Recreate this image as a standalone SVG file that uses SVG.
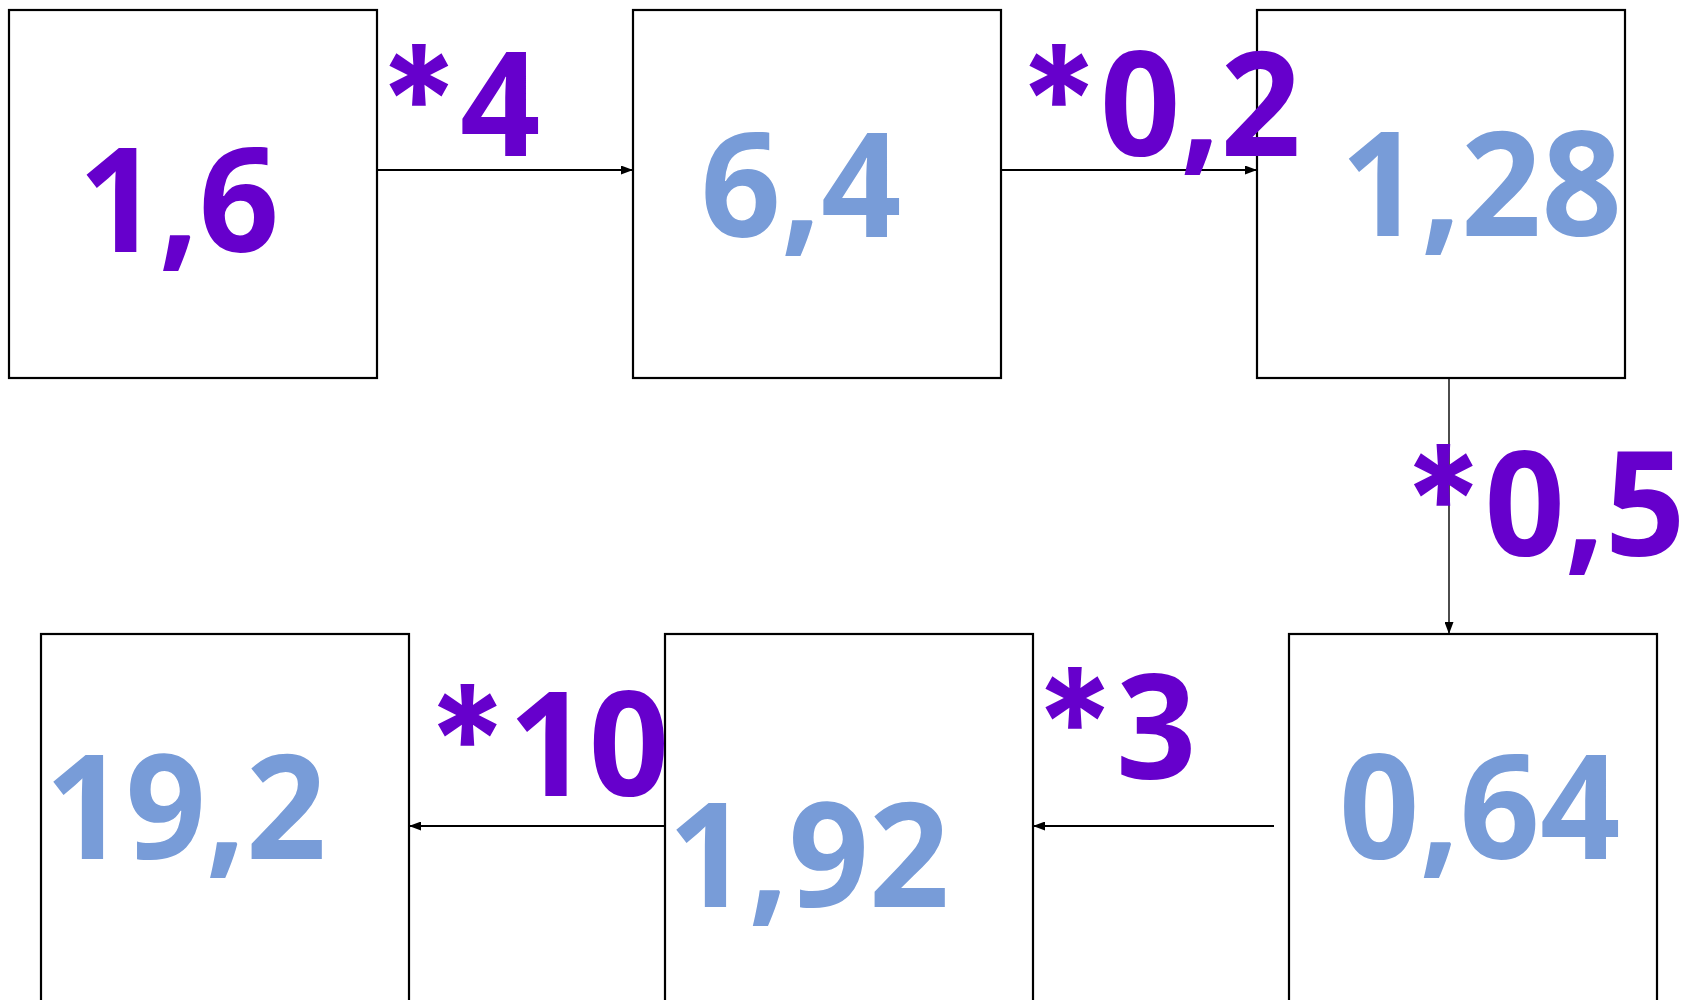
<svg xmlns="http://www.w3.org/2000/svg" width="1682" height="1000" viewBox="0 0 1682 1000">
<style>
.box{fill:#fff;stroke:#000;stroke-width:2.2}
.t{font-family:"Open Sans","Liberation Sans",sans-serif;font-weight:700;font-size:145px}
.s{font-family:"Inter","Open Sans",sans-serif;font-size:151px}
.p{fill:#6600CC}
.b{fill:#789CD8}
.c{stroke:#000;stroke-width:1.8;fill:none}
</style>
<defs>
<marker id="ah" markerUnits="userSpaceOnUse" markerWidth="12" markerHeight="9" refX="11" refY="4.5" orient="auto">
<path d="M0,0 L12,4.5 L0,9 z" fill="#000"/>
</marker>
</defs>
<rect width="1682" height="1000" fill="#fff"/>
<g id="n1"><rect class="box" x="9" y="10" width="368" height="368"/><text class="t p" transform="translate(78.3,252) scale(0.97,1)">1,6</text></g>
<g id="n2"><rect class="box" x="633" y="10" width="368" height="368"/><text class="t b" transform="translate(700.5,237) scale(0.97,1)">6,4</text></g>
<g id="n3"><rect class="box" x="1257" y="10" width="368" height="368"/><text class="t b" transform="translate(1340.5,236) scale(0.97,1)">1,28</text></g>
<g id="n4"><rect class="box" x="1289" y="634" width="368" height="380"/><text class="t b" transform="translate(1339,859) scale(0.97,1)">0,64</text></g>
<g id="n5"><rect class="box" x="665" y="634" width="368" height="380"/><text class="t b" transform="translate(668,907) scale(0.97,1)">1,92</text></g>
<g id="n6"><rect class="box" x="41" y="634" width="368" height="380"/><text class="t b" transform="translate(45,859) scale(0.97,1)">19,2</text></g>
<g id="connectors">
<line class="c" x1="377" y1="170" x2="632" y2="170" marker-end="url(#ah)"/>
<line class="c" x1="1001" y1="170" x2="1256" y2="170" marker-end="url(#ah)"/>
<line class="c" x1="1449" y1="378" x2="1449" y2="633" style="stroke-width:1.4" marker-end="url(#ah)"/>
<line class="c" x1="1274" y1="826" x2="1034" y2="826" marker-end="url(#ah)"/>
<line class="c" x1="665" y1="826" x2="410" y2="826" marker-end="url(#ah)"/>
</g>
<g id="labels">
<text class="t p" transform="translate(378,156) scale(0.97,1)"><tspan class="s" dy="-2">*</tspan><tspan dy="2">4</tspan></text>
<text class="t p" transform="translate(1018,156) scale(0.97,1)"><tspan class="s" dy="-2">*</tspan><tspan dy="2">0,2</tspan></text>
<text class="t p" transform="translate(1402.5,556) scale(0.97,1)"><tspan class="s" dy="-2">*</tspan><tspan dy="2">0,5</tspan></text>
<text class="t p" transform="translate(1034,779) scale(0.97,1)"><tspan class="s" dy="-2">*</tspan><tspan dy="2">3</tspan></text>
<text class="t p" transform="translate(426.5,796) scale(0.97,1)"><tspan class="s" dy="-2">*</tspan><tspan dy="2">10</tspan></text>
</g>
</svg>
